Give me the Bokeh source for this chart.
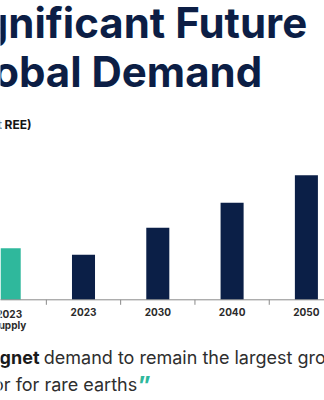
from bokeh.plotting import figure
from bokeh.models import Range1d
from bokeh.core.properties import value
from bokeh.embed import file_html
from bokeh.resources import INLINE

# ---- data ----
categories = ["2023\nSupply", "2023", "2030", "2040", "2050"]
values = [51.5, 45, 72, 97, 124.5]
bar_colors = ["#2fb89c", "#0b1f47", "#0b1f47", "#0b1f47", "#0b1f47"]
title_lines = ["Significant Future", "Global Demand"]
unit_label = "(kt REE)"
note_bold = "\u201cMagnet"
note_line1 = "demand to remain the largest growth"
note_line2 = "factor for rare earths"

W, H = 324, 400
NAVY = "#0c1e45"
TEAL = "#2fb89c"
FONT = value("Inter")

idx = list(range(len(categories)))

p = figure(width=W, height=H, output_backend="svg", toolbar_location=None,
           x_range=Range1d(-0.1171, 4.2436), y_range=Range1d(-100.7, 299.3),
           x_axis_type=None, y_axis_type=None, min_border=0)
p.extra_x_ranges = {"px": Range1d(0, W)}
p.extra_y_ranges = {"px": Range1d(H, 0)}
p.grid.visible = False
p.outline_line_color = None
p.background_fill_color = "white"
p.border_fill_color = "white"

# bars
p.vbar(x=idx, top=values, bottom=0, width=0.31, color=bar_colors, line_color=None)

# baseline axis with ticks between categories
p.segment(x0=[-0.2], y0=[0], x1=[4.5], y1=[0], line_color="#8a8a8a", line_width=1)
bounds = [i + 0.5 for i in idx[:-1]]
p.segment(x0=bounds, y0=[0] * len(bounds), x1=bounds, y1=[-5] * len(bounds),
          line_color="#8a8a8a", line_width=1)
p.text(x=idx, y=[-8] * len(idx), text=categories, text_font=FONT,
       text_font_style="bold", text_font_size="10px", text_color="#2b2b2b",
       text_align="center", text_baseline="top", text_line_height=0.95)

# title
kw = dict(x_range_name="px", y_range_name="px")
p.text(x=[306.7, 261.7], y=[21.5, 71], text=title_lines, text_font=FONT,
       text_font_style="bold", text_font_size="42px", text_color=NAVY,
       text_align="right", text_baseline="alphabetic", **kw)
p.text(x=[31], y=[124], text=[unit_label], text_font=FONT, text_font_style="bold",
       text_font_size="12px", text_color="#151515", text_align="right",
       text_baseline="alphabetic", **kw)

# note
p.text(x=[39], y=[357], text=[note_bold], text_font=FONT, text_font_style="bold",
       text_font_size="18px", text_color="#1a1a1a", text_align="right",
       text_baseline="alphabetic", **kw)
p.text(x=[43.3], y=[357], text=[note_line1], text_font=FONT,
       text_font_size="18px", text_color="#2e2e2e", text_align="left",
       text_baseline="alphabetic", **kw)
p.text(x=[136.7], y=[383.5], text=[note_line2], text_font=FONT,
       text_font_size="18px", text_color="#2e2e2e", text_align="right",
       text_baseline="alphabetic", **kw)
p.text(x=[137.5], y=[385], text=["\u201d"], text_font=FONT, text_font_style="bold",
       text_font_size="24px", text_color=TEAL, text_align="left",
       text_baseline="alphabetic", **kw)

open("out.html", "w").write(file_html(p, INLINE))
